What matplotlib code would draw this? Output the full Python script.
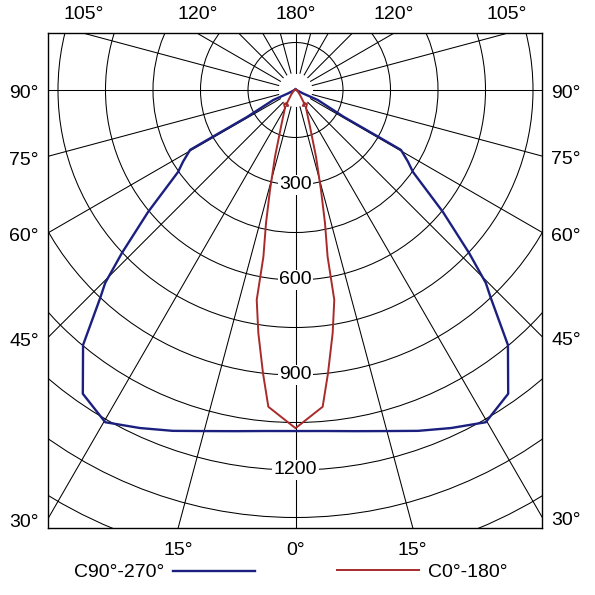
import numpy as np
import matplotlib
matplotlib.use('Agg')
import matplotlib.pyplot as plt
from matplotlib.patches import Circle
from matplotlib.lines import Line2D

plt.rcParams['font.family'] = ['Liberation Sans', 'DejaVu Sans']

# ---------------- data (gamma angle in degrees, intensity in cd) ----------------
blue_gamma = [0, 5, 10, 15, 19.8, 24.7, 29.8, 35, 39.8, 43.2, 44.6, 46.8, 50.4,
              55.1, 57.5, 60.4, 60.5, 60.9, 65.8, 65.4, 90, 180]
blue_cd = [1077, 1081, 1094, 1115, 1144, 1175, 1209, 1171, 1048, 901, 856, 752, 604,
           452, 421, 383, 321, 175, 77, 25, 3, 2]

red_gamma = [0, 4.9, 6.55, 8.7, 10.47, 10.9, 12.5, 14.3, 17.1, 22.5, 30.3,
             39.4, 33.2, 25.1, 32.7, 42, 60, 90, 180]
red_cd = [1068, 1004, 900, 776, 674, 536, 430, 326, 220, 114, 66,
          57, 49, 56, 53, 21, 8, 3, 2]

legend_labels = ['C90°-270°', 'C0°-180°']
circle_values = [150, 300, 450, 600, 750, 900, 1050, 1200, 1350, 1500, 1650, 1800]
value_labels = [300, 600, 900, 1200]
ray_angles = [0, 15, 30, 45, 60, 75, 90, 105, 120, 135, 150, 165, 180]
side_tick_labels = [30, 45, 60, 75, 90]
top_tick_labels = [105, 120, 180]
bottom_tick_labels = [0, 15]

BLUE = '#1b1f7e'
RED = '#a82a2a'
FS = 14

W = 595.0
fig = plt.figure(figsize=(5.95, 5.95), dpi=100)
left_px, right_px, top_px, bot_px = 48.0, 542.0, 33.3, 527.5
ax = fig.add_axes([left_px / W, 1 - bot_px / W, (right_px - left_px) / W, (bot_px - top_px) / W])

cx_px, cy_px = 295.5, 90.0
s = 95.0 / 300.0  # px per cd
xmin, xmax = (left_px - cx_px) / s, (right_px - cx_px) / s
ymin, ymax = -(bot_px - cy_px) / s, (cy_px - top_px) / s
ax.set_xlim(xmin, xmax)
ax.set_ylim(ymin, ymax)
ax.set_xticks([])
ax.set_yticks([])
for sp in ax.spines.values():
    sp.set_linewidth(1.0)
    sp.set_color('black')

# grid circles
for r in circle_values:
    ax.add_patch(Circle((0, 0), r, fill=False, lw=0.75, color='black', zorder=1))

# rays
r0, r1 = 55, 3000
for g in ray_angles:
    gr = np.radians(g)
    for side in (-1, 1):
        ax.plot([side * r0 * np.sin(gr), side * r1 * np.sin(gr)],
                [-r0 * np.cos(gr), -r1 * np.cos(gr)], color='black', lw=0.75, zorder=1)


def curve(gamma, cd):
    g = np.radians(np.asarray(gamma, float))
    v = np.asarray(cd, float)
    xl = -v[::-1] * np.sin(g[::-1])
    yl = -v[::-1] * np.cos(g[::-1])
    xr = v * np.sin(g)
    yr = -v * np.cos(g)
    return np.concatenate([xl, xr]), np.concatenate([yl, yr])


bx, by = curve(blue_gamma, blue_cd)
ax.plot(bx, by, color=BLUE, lw=1.7, zorder=3)
rx, ry = curve(red_gamma, red_cd)
ax.plot(rx, ry, color=RED, lw=1.4, zorder=3)

# value labels
for v in value_labels:
    ax.text(0, -v, str(v), ha='center', va='center', fontsize=FS, zorder=2,
            bbox=dict(facecolor='white', edgecolor='none', pad=1.0))


# angle labels around the box
def exit_point(g, side):
    gr = np.radians(g)
    dx, dy = side * np.sin(gr), -np.cos(gr)
    ts = []
    if dx < -1e-9:
        ts.append((xmin / dx, 'left'))
    if dx > 1e-9:
        ts.append((xmax / dx, 'right'))
    if dy < -1e-9:
        ts.append((ymin / dy, 'bottom'))
    if dy > 1e-9:
        ts.append((ymax / dy, 'top'))
    t, edge = min(ts)
    return t * dx, t * dy, edge


def put_label(g, side):
    x, y, edge = exit_point(g, side)
    txt = f'{g}°'
    if edge == 'left':
        ax.annotate(txt, (xmin, y), xytext=(-6.5, -2.8), textcoords='offset points',
                    ha='right', va='center', fontsize=FS, annotation_clip=False)
    elif edge == 'right':
        ax.annotate(txt, (xmax, y), xytext=(6.5, -2.8), textcoords='offset points',
                    ha='left', va='center', fontsize=FS, annotation_clip=False)
    elif edge == 'top':
        ax.annotate(txt, (x, ymax), xytext=(0, 13.7), textcoords='offset points',
                    ha='center', va='center', fontsize=FS, annotation_clip=False)
    else:
        ax.annotate(txt, (x, ymin), xytext=(0, -16.7), textcoords='offset points',
                    ha='center', va='center', fontsize=FS, annotation_clip=False)


for g in side_tick_labels:
    put_label(g, -1)
    put_label(g, 1)
for g in top_tick_labels:
    if g == 180:
        put_label(g, 1)
    else:
        put_label(g, -1)
        put_label(g, 1)
for g in bottom_tick_labels:
    if g == 0:
        put_label(g, 1)
    else:
        put_label(g, -1)
        put_label(g, 1)

# legend
ly = 1 - 571 / W
fig.text(164 / W, 1 - 572.5 / W, legend_labels[0], ha='right', va='center', fontsize=FS)
fig.add_artist(Line2D([173 / W, 255 / W], [ly, ly], transform=fig.transFigure, color=BLUE, lw=1.7))
fig.add_artist(Line2D([337 / W, 419 / W], [1 - 570 / W] * 2, transform=fig.transFigure, color=RED, lw=1.4))
fig.text(428 / W, 1 - 572.5 / W, legend_labels[1], ha='left', va='center', fontsize=FS)

fig.savefig('out.png', dpi=100, facecolor='white')
